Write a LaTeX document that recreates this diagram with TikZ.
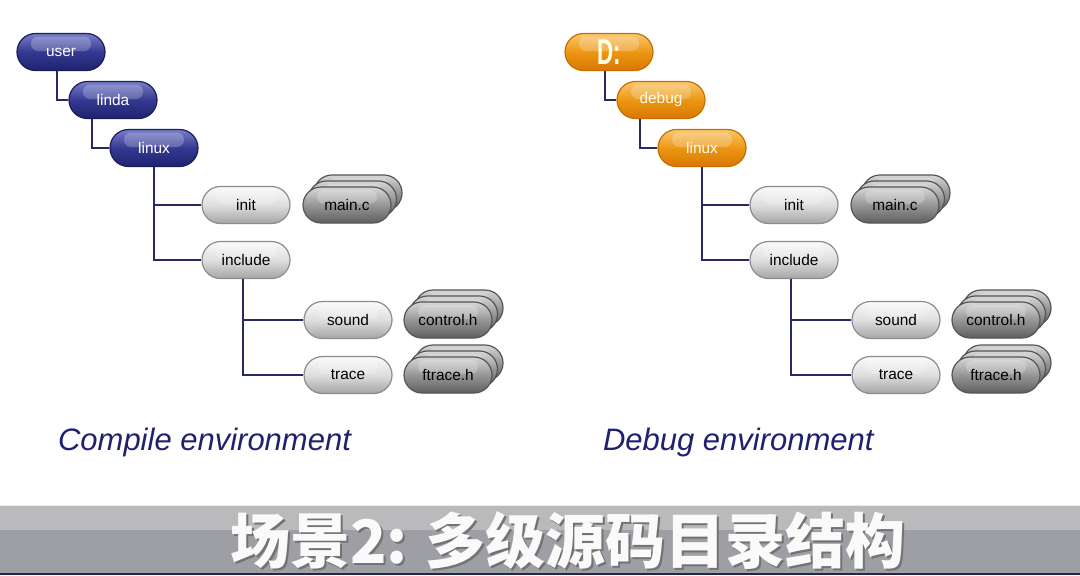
\documentclass[tikz,border=0pt]{standalone}
\usepackage{fontspec}
\setmainfont{Liberation Sans}
\newfontfamily\cjk{Noto Sans CJK SC}
\usetikzlibrary{shapes.misc, calc}
\definecolor{navyrim}{RGB}{26,29,92}
\definecolor{navytop}{RGB}{120,126,200}
\definecolor{navymid}{RGB}{52,57,145}
\definecolor{navybot}{RGB}{30,34,110}
\definecolor{ambrim}{RGB}{200,110,0}
\definecolor{ambtop}{RGB}{250,200,110}
\definecolor{ambmid}{RGB}{236,150,20}
\definecolor{ambbot}{RGB}{215,120,0}
\definecolor{silrim}{RGB}{140,140,140}
\definecolor{siltop}{RGB}{250,250,250}
\definecolor{silmid}{RGB}{222,222,222}
\definecolor{silbot}{RGB}{165,165,165}
\definecolor{filrim}{RGB}{85,85,85}
\definecolor{filtop}{RGB}{215,215,215}
\definecolor{filmid}{RGB}{150,150,150}
\definecolor{filbot}{RGB}{95,95,95}
\definecolor{linkcol}{RGB}{40,42,100}
\definecolor{captcol}{RGB}{30,34,110}
\definecolor{bandtop}{RGB}{186,186,188}
\definecolor{bandbot}{RGB}{158,158,165}
\definecolor{bandedge}{RGB}{36,36,80}
\tikzset{
  gloss/.style={path picture={
    \fill[white, opacity=0.22, rounded corners=3.5pt]
      ($(path picture bounding box.north west)+(7pt,-1.5pt)$) rectangle
      ($(path picture bounding box.east)+(-7pt,0.5pt)$);}},
  pill/.style={rounded rectangle, minimum width=44pt, minimum height=18.5pt,
    inner sep=0pt, line width=0.6pt, font=\fontsize{7.7}{9}\selectfont, gloss},
  navypill/.style={pill, draw=navyrim, top color=navytop, bottom color=navybot,
    middle color=navymid, text=white},
  amberpill/.style={pill, draw=ambrim, top color=ambtop, bottom color=ambbot,
    middle color=ambmid, text=white!92!yellow},
  dirpill/.style={pill, draw=silrim, top color=siltop, bottom color=silbot,
    middle color=silmid, text=black},
  filepill/.style={pill, minimum height=18pt, draw=filrim, top color=filtop,
    bottom color=filbot, middle color=filmid, text=black},
  link/.style={draw=linkcol, line width=0.8pt},
  caption/.style={anchor=west, text=captcol, font=\fontsize{15.5}{18}\selectfont\itshape},
  banner/.style={font=\fontsize{30}{32}\selectfont\cjk\bfseries}
}
\begin{document}
\begin{tikzpicture}[x=0.5pt, y=-0.5pt]
  \useasboundingbox (0,0) rectangle (1080,575);
  \fill[white] (0,0) rectangle (1080,575);

  % Compile environment
  \node[navypill] (user) at (61,52) {user};
  \node[navypill] (linda) at (113,100) {linda};
  \node[navypill] (linuxA) at (154,148) {linux};
  \node[dirpill] (initA) at (246,205) {init};
  \node[dirpill] (includeA) at (246,260) {include};
  \node[dirpill] (soundA) at (348,320) {sound};
  \node[dirpill] (traceA) at (348,375) {trace};
  \foreach \k in {2,1} {
    \node[filepill] (maincA\k) at ($(347,205)+(\k*5.5,-\k*6)$) {};
    \node[filepill] (controlA\k) at ($(448,320)+(\k*5.5,-\k*6)$) {};
    \node[filepill] (ftraceA\k) at ($(448,375)+(\k*5.5,-\k*6)$) {};
  }
  \node[filepill] (maincA) at (347,205) {main.c};
  \node[filepill] (controlA) at (448,320) {control.h};
  \node[filepill] (ftraceA) at (448,375) {ftrace.h};

  \draw[link] ([xshift=-2pt]user.south) |- (linda.west);
  \draw[link] ([xshift=-10.5pt]linda.south) |- (linuxA.west);
  \draw[link] (linuxA.south) |- (initA.west);
  \draw[link] (linuxA.south) |- (includeA.west);
  \draw[link] ([xshift=-1.5pt]includeA.south) |- (soundA.west);
  \draw[link] ([xshift=-1.5pt]includeA.south) |- (traceA.west);

  \node[caption] (captA) at (51,442) {Compile environment};

  % Debug environment
  \node[amberpill] (drive) at (609,52) {\fontsize{18}{18}\selectfont\bfseries\scalebox{0.62}[1]{D:}};
  \node[amberpill] (debug) at (661,100) {debug};
  \node[amberpill] (linuxB) at (702,148) {linux};
  \node[dirpill] (initB) at (794,205) {init};
  \node[dirpill] (includeB) at (794,260) {include};
  \node[dirpill] (soundB) at (896,320) {sound};
  \node[dirpill] (traceB) at (896,375) {trace};
  \foreach \k in {2,1} {
    \node[filepill] (maincB\k) at ($(895,205)+(\k*5.5,-\k*6)$) {};
    \node[filepill] (controlB\k) at ($(996,320)+(\k*5.5,-\k*6)$) {};
    \node[filepill] (ftraceB\k) at ($(996,375)+(\k*5.5,-\k*6)$) {};
  }
  \node[filepill] (maincB) at (895,205) {main.c};
  \node[filepill] (controlB) at (996,320) {control.h};
  \node[filepill] (ftraceB) at (996,375) {ftrace.h};

  \draw[link] ([xshift=-2pt]drive.south) |- (debug.west);
  \draw[link] ([xshift=-10.5pt]debug.south) |- (linuxB.west);
  \draw[link] (linuxB.south) |- (initB.west);
  \draw[link] (linuxB.south) |- (includeB.west);
  \draw[link] ([xshift=-1.5pt]includeB.south) |- (soundB.west);
  \draw[link] ([xshift=-1.5pt]includeB.south) |- (traceB.west);

  \node[caption] (captB) at (596,442) {Debug environment};

  % Subtitle band
  \fill[bandbot] (0,505) rectangle (1080,573);
  \fill[bandtop] (0,505) rectangle (1080,530);
  \draw[white!85!gray, line width=0.6pt] (0,505.5) -- (1080,505.5);
  \fill[bandedge] (0,573) rectangle (1080,575);
  \node[banner, text=black!55] (titleshade) at (570,543) {场景2: 多级源码目录结构};
  \node[banner, text=white!96!gray] (title) at (568,541) {场景2: 多级源码目录结构};
\end{tikzpicture}
\end{document}
